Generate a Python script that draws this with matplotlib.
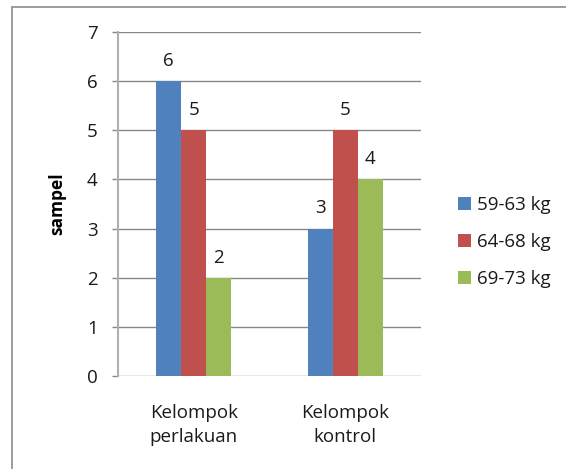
import matplotlib
matplotlib.use("Agg")
import matplotlib.pyplot as plt
import numpy as np
from matplotlib.patches import Rectangle

categories = ["Kelompok\nperlakuan", "Kelompok\nkontrol"]
series_names = ["59-63 kg", "64-68 kg", "69-73 kg"]
values_5963 = [6, 3]
values_6468 = [5, 5]
values_6973 = [2, 4]
series_values = [values_5963, values_6468, values_6973]
colors = ["#4F81BD", "#C0504D", "#9BBB59"]
yticks = [0, 1, 2, 3, 4, 5, 6, 7]

plt.rcParams['font.family'] = ['Open Sans', 'DejaVu Sans']
FS = 13.5
TXT = "#1a1a1a"

W, H = 566, 469
fig = plt.figure(figsize=(W / 100, H / 100), dpi=100)
ax = fig.add_axes([118 / W, 1 - 376 / H, (421 - 118) / W, (376 - 32) / H])

# figure border
fig.patches.append(Rectangle((12 / W, -0.1), 1.2, 1 - 7 / H + 0.1, transform=fig.transFigure,
                             fill=False, edgecolor="#8c8c8c", linewidth=1.2))

x = np.arange(len(categories))
bw = 0.165
for i, (name, vals, c) in enumerate(zip(series_names, series_values, colors)):
    pos = x + (i - 1) * bw
    ax.bar(pos, vals, width=bw, color=c, label=name, zorder=3)
    for p, v in zip(pos, vals):
        ax.annotate(str(v), (p, v), xytext=(0, 14.5), textcoords="offset points",
                    ha="center", va="center", fontsize=FS, color=TXT)

ax.set_xlim(-0.5, 1.5)
ax.set_ylim(0, 7)
ax.set_yticks(yticks)
ax.set_yticklabels([str(t) for t in yticks], fontsize=FS, color=TXT)
ax.set_xticks(x)
ax.set_xticklabels(categories, fontsize=FS, color=TXT, linespacing=1.45)
ax.tick_params(axis="x", length=0, pad=20)
ax.tick_params(axis="y", length=4.5, color="#878787", pad=10, width=1)
ax.grid(axis="y", color="#878787", linewidth=1, zorder=0)
for s in ["top", "right", "bottom"]:
    ax.spines[s].set_visible(False)
ax.spines["left"].set_color("#b0b0b0")
ax.spines["left"].set_linewidth(1.5)
ax.set_ylabel("sampel", fontsize=12.5, fontweight="bold", color="#000000")
ax.yaxis.set_label_coords((66 - 118) / (421 - 118), 0.5)

leg = ax.legend(loc="center left", bbox_to_anchor=((458 - 118) / 303, (376 - 242) / 344),
                frameon=False, fontsize=FS, handlelength=0.67, handleheight=0.67,
                handletextpad=0.35, labelspacing=1.0, borderaxespad=0, borderpad=0)
for t in leg.get_texts():
    t.set_color(TXT)

fig.savefig("out.png", dpi=100, facecolor="white")
